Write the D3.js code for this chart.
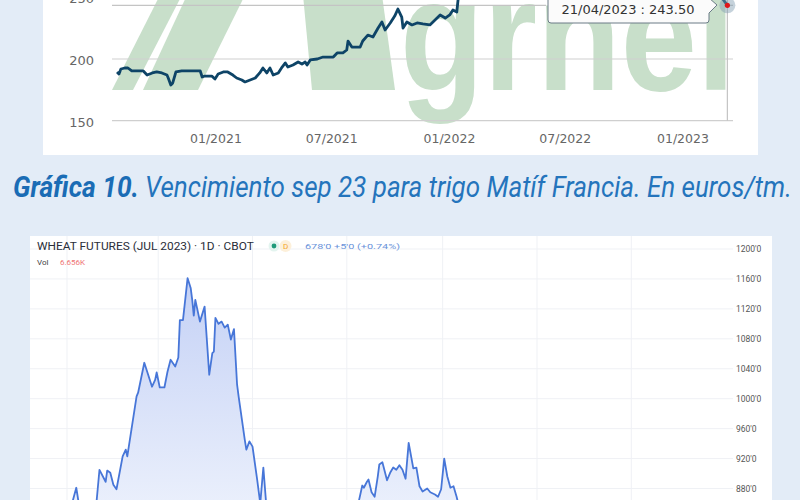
<!DOCTYPE html>
<html><head><meta charset="utf-8">
<script src="https://cdn.jsdelivr.net/npm/d3@7"></script>
<style>body{margin:0;background:#e3ecf7;overflow:hidden} svg{display:block}</style>
</head><body>
<svg id="c" width="800" height="500"></svg>
<script>
// ---------- Top chart: Matif wheat Sep 23 (euros/tm) ----------
const matifDates = ["2020-09-09","2020-09-12","2020-09-15","2020-09-21","2020-09-26","2020-10-02","2020-10-15","2020-10-20","2020-10-26","2020-11-03","2020-11-10","2020-11-18","2020-11-26","2020-11-28","2020-12-02","2020-12-05","2020-12-10","2020-12-19","2021-01-01","2021-01-17","2021-01-20","2021-01-24","2021-02-04","2021-02-09","2021-02-14","2021-02-22","2021-03-01","2021-03-09","2021-03-15","2021-03-23","2021-03-28","2021-04-05","2021-04-13","2021-04-20","2021-04-25","2021-05-01","2021-05-06","2021-05-11","2021-05-19","2021-05-25","2021-05-30","2021-06-03","2021-06-11","2021-06-19","2021-06-25","2021-06-30","2021-07-03","2021-07-08","2021-07-19","2021-07-28","2021-08-05","2021-08-13","2021-08-19","2021-08-28","2021-09-03","2021-09-05","2021-09-11","2021-09-24","2021-09-28","2021-10-06","2021-10-14","2021-10-22","2021-10-28","2021-11-02","2021-11-10","2021-11-17","2021-11-22","2021-11-28","2021-11-30","2021-12-06","2021-12-14","2021-12-22","2021-12-31","2022-01-11","2022-01-19","2022-01-27","2022-02-04","2022-02-11","2022-02-16","2022-02-22","2022-02-24","2022-02-28","2022-03-08","2022-05-16","2022-07-05","2022-09-01","2022-11-01","2023-01-03","2023-03-01","2023-04-05","2023-04-12","2023-04-21"];
const matifValues = [189.5,187.8,191.9,192.7,192.7,190.3,190.3,190.3,187.0,188.7,189.5,188.7,187.0,184.6,178.9,180.6,189.5,190.3,190.3,190.3,185.4,186.2,186.2,183.8,187.8,189.5,189.5,187.0,184.6,183.0,181.4,183.0,184.6,188.7,192.7,188.7,192.7,187.0,188.7,193.5,196.8,193.5,195.1,197.6,195.9,197.6,195.1,199.2,200.0,201.6,201.6,201.6,204.9,204.9,207.3,214.5,209.7,209.7,214.6,219.4,217.8,225.1,230.0,223.5,229.2,234.8,240.5,234.0,225.1,230.0,227.6,229.2,228.4,227.6,231.6,235.7,233.2,235.7,239.7,238.1,247.8,270,330,380,300,320,310,290,265,255,250,243.5];
const matifYTicks = [150,200,250];
const matifXTicks = ["2021-01-01","2021-07-01","2022-01-01","2022-07-01","2023-01-01"];
const tooltipDate = "2023-04-21";
const tooltipValue = 243.5;
const tooltipLabel = "21/04/2023 : 243.50";
const watermarkText = "grnel";

// ---------- Caption ----------
const captionBold = "Gráfica 10.";
const captionRest = "Vencimiento sep 23 para trigo Matíf Francia. En euros/tm.";

// ---------- Bottom chart: CBOT wheat Jul 2023 ----------
const cbotTitle = "WHEAT FUTURES (JUL 2023) · 1D · CBOT";
const cbotQuote = "678'0 +5'0 (+0.74%)";
const volLabel = "Vol";
const volValue = "6.656K";
const cbotDates = ["2021-12-11","2021-12-21","2021-12-31","2022-01-04","2022-01-07","2022-01-09","2022-01-16","2022-01-20","2022-01-22","2022-01-26","2022-01-27","2022-01-29","2022-01-31","2022-02-02","2022-02-06","2022-02-08","2022-02-09","2022-02-12","2022-02-15","2022-02-16","2022-02-20","2022-02-25","2022-02-27","2022-02-28","2022-03-02","2022-03-05","2022-03-07","2022-03-09","2022-03-12","2022-03-14","2022-03-15","2022-03-17","2022-03-20","2022-03-22","2022-03-23","2022-03-24","2022-03-25","2022-03-28","2022-03-31","2022-04-03","2022-04-05","2022-04-06","2022-04-07","2022-04-09","2022-04-11","2022-04-13","2022-04-15","2022-04-17","2022-04-19","2022-04-21","2022-04-22","2022-04-26","2022-04-27","2022-04-29","2022-05-01","2022-05-04","2022-05-06","2022-05-08","2022-05-10","2022-05-19","2022-06-01","2022-06-14","2022-06-27","2022-06-30","2022-07-03","2022-07-08","2022-07-11","2022-07-12","2022-07-14","2022-07-15","2022-07-17","2022-07-19","2022-07-21","2022-07-22","2022-07-24","2022-07-27","2022-07-29","2022-07-31","2022-08-02","2022-08-04","2022-08-06","2022-08-08","2022-08-10","2022-08-13","2022-08-15","2022-08-17","2022-08-19","2022-08-22","2022-08-24","2022-08-27","2022-08-29","2022-08-31","2022-09-02","2022-09-04","2022-09-06","2022-09-08","2022-09-10","2022-09-12","2022-09-25","2022-10-21","2022-11-16","2022-12-12","2023-01-07","2023-02-01","2023-02-27","2023-04-21"];
const cbotValues = [835,845,852,858,881,855,858,860,905,889,904,901,885,879,923,932,923,963,1003,1008,1048,1016,1025,1035,1015,1015,1036,1052,1043,1055,1105,1105,1161,1148,1132,1111,1132,1103,1123,1032,1061,1063,1108,1100,1103,1095,1099,1079,1093,1019,1003,945,932,943,936,892,860,908,855,845,835,840,850,858,855,856,884,881,889,892,875,869,896,912,915,891,901,908,905,911,905,893,941,907,908,883,876,880,875,872,869,879,920,896,881,883,869,852,830,800,780,760,750,720,700,678];
const cbotYTicks = [880,920,960,1000,1040,1080,1120,1160,1200];
const fmtCbot = v => v + "'0";

const svg = d3.select("#c");
const defs = svg.append("defs");
const P = d => new Date(d + "T00:00:00Z");

// place text at (x, y) and squeeze horizontally so it spans `width` px
function fitText(t, x, y, width) {
  t.attr("x", 0).attr("y", 0);
  const w = t.node().getComputedTextLength();
  t.attr("transform", `translate(${x},${y}) scale(${width / w},1)`);
  return t;
}

// ================= TOP PANEL =================
svg.append("rect").attr("x",43).attr("y",-20).attr("width",715).attr("height",175).attr("fill","#fff");
defs.append("clipPath").attr("id","topClip").append("rect").attr("x",43).attr("y",0).attr("width",715).attr("height",155);
const topG = svg.append("g").attr("clip-path","url(#topClip)");

// watermark
const wm = topG.append("g").attr("fill","#c8dfca");
wm.append("polygon").attr("points","112,90 133,90 182,-5 160,-5");
wm.append("polygon").attr("points","143,90 198,90 245,-5 187,-5");
wm.append("polygon").attr("points","303,-5 382,-5 395,90 312,90");
fitText(wm.append("text").attr("font-family","Liberation Sans, Arial, sans-serif")
  .attr("font-weight","bold").attr("font-size",160).text(watermarkText), 400, 90, 335);

const xTop = d3.scaleUtc().domain([P("2021-01-01"), P("2023-01-01")]).range([190, 657]);
const yTop = d3.scaleLinear().domain([150, 200]).range([120.7, 59]);

// gridlines
topG.append("g").selectAll("line").data(matifYTicks).join("line")
  .attr("x1",112).attr("x2",733).attr("y1",d=>yTop(d)).attr("y2",d=>yTop(d))
  .attr("stroke","#cfcfcf").attr("stroke-width",1.2);
topG.append("g").selectAll("text").data(matifYTicks).join("text")
  .attr("x",94).attr("y",d=>yTop(d)+6).attr("text-anchor","end")
  .attr("font-family","DejaVu Sans, sans-serif").attr("font-size",13).attr("fill","#666").text(d=>d);
topG.append("g").selectAll("text").data(matifXTicks).join("text")
  .attr("x",d=>xTop(P(d))).attr("y",143)
  .attr("font-family","DejaVu Sans, sans-serif").attr("font-size",12.5).attr("fill","#666")
  .text(d=>d3.utcFormat("%m/%Y")(P(d)));

// crosshair
const tx = xTop(P(tooltipDate)), ty = yTop(tooltipValue);
topG.append("line").attr("x1",112).attr("x2",546).attr("y1",ty).attr("y2",ty).attr("stroke","#c4c4c4").attr("stroke-width",1.2);
topG.append("line").attr("x1",tx).attr("x2",733).attr("y1",ty).attr("y2",ty).attr("stroke","#c4c4c4").attr("stroke-width",1.2);
topG.append("line").attr("x1",tx).attr("x2",tx).attr("y1",-10).attr("y2",yTop(150)).attr("stroke","#c4c4c4").attr("stroke-width",1.2);

// line
defs.append("clipPath").attr("id","topPlot").append("rect").attr("x",112).attr("y",-50).attr("width",621).attr("height",171);
topG.append("path").datum(matifDates.map((d,i)=>({d:P(d),v:matifValues[i]})))
  .attr("clip-path","url(#topPlot)")
  .attr("fill","none").attr("stroke","#0e4467").attr("stroke-width",2.8).attr("stroke-linejoin","round")
  .attr("d", d3.line().x(p=>xTop(p.d)).y(p=>yTop(p.v)));

// tooltip marker
topG.append("circle").attr("cx",tx).attr("cy",ty).attr("r",8).attr("fill","#7f9cb0").attr("opacity",0.45);
topG.append("circle").attr("cx",tx).attr("cy",ty).attr("r",2.6).attr("fill","#e0161b");
const tt = topG.append("g");
tt.append("path").attr("d",`M548,-15 H709 V-2 L717,5 L709,13 V20 Q709,23 706,23 H551 Q548,23 548,20 Z`)
  .attr("fill","#fbfbfb").attr("stroke","#6a7b86").attr("stroke-width",1);
tt.append("text").attr("x",628).attr("y",14).attr("text-anchor","middle")
  .attr("font-family","DejaVu Sans, sans-serif").attr("font-size",13).attr("fill","#333").text(tooltipLabel);

// ================= CAPTION =================
fitText(svg.append("text").attr("font-family","Roboto, sans-serif")
  .attr("font-style","italic").attr("font-weight","bold").attr("font-size",30).attr("fill","#1a6cb5")
  .text(captionBold), 13, 197, 126);
fitText(svg.append("text").attr("font-family","Roboto, sans-serif")
  .attr("font-style","italic").attr("font-weight","normal").attr("font-size",30).attr("fill","#2474bc")
  .text(captionRest), 145, 197, 647);

// ================= BOTTOM PANEL =================
svg.append("rect").attr("x",30).attr("y",236).attr("width",742).attr("height",280).attr("fill","#fff");
const xBot = d3.scaleUtc().domain([P("2022-01-01"), P("2023-01-01")]).range([67, 631.3]);
const yBot = d3.scaleLinear().domain([880, 1200]).range([488.5, 249]);
const bot = svg.append("g");
defs.append("clipPath").attr("id","botPlot").append("rect").attr("x",30).attr("y",236).attr("width",703).attr("height",280);

// grid
bot.append("g").selectAll("line").data(cbotYTicks).join("line")
  .attr("x1",30).attr("x2",733).attr("y1",d=>yBot(d)).attr("y2",d=>yBot(d))
  .attr("stroke","#eff1f5").attr("stroke-width",1);
bot.append("g").selectAll("line").data(xBot.ticks(d3.utcMonth.every(2)).filter(d=>xBot(d)<733)).join("line")
  .attr("x1",d=>xBot(d)).attr("x2",d=>xBot(d)).attr("y1",236).attr("y2",500)
  .attr("stroke","#eff1f5").attr("stroke-width",1);

// area + line
const cbot = cbotDates.map((d,i)=>({d:P(d),v:cbotValues[i]}));
const grad = defs.append("linearGradient").attr("id","ag").attr("gradientUnits","userSpaceOnUse")
  .attr("x1",0).attr("x2",0).attr("y1",270).attr("y2",510);
grad.append("stop").attr("offset",0).attr("stop-color","#c3d0f5");
grad.append("stop").attr("offset",1).attr("stop-color","#ebf0fc");
const pg = bot.append("g").attr("clip-path","url(#botPlot)");
pg.append("path").datum(cbot).attr("fill","url(#ag)")
  .attr("d", d3.area().x(p=>xBot(p.d)).y0(yBot(820)).y1(p=>yBot(p.v)));
pg.append("path").datum(cbot).attr("fill","none").attr("stroke","#4776d8").attr("stroke-width",1.8)
  .attr("stroke-linejoin","round")
  .attr("d", d3.line().x(p=>xBot(p.d)).y(p=>yBot(p.v)));

// right axis labels
bot.append("g").selectAll("text").data(cbotYTicks).join("text")
  .attr("x",736).attr("y",d=>yBot(d)+3).attr("font-family","Roboto, sans-serif")
  .attr("font-size",8.5).attr("fill","#555").text(fmtCbot);

// header
fitText(bot.append("text").attr("font-family","Roboto, sans-serif").attr("font-size",10.5)
  .attr("fill","#2a2e39").text(cbotTitle), 37, 250, 217);
bot.append("circle").attr("cx",274).attr("cy",246).attr("r",5.5).attr("fill","#e3f4ef");
bot.append("circle").attr("cx",274).attr("cy",246).attr("r",2.4).attr("fill","#1f9a7a");
bot.append("circle").attr("cx",285.5).attr("cy",246).attr("r",6).attr("fill","#fdf0da");
bot.append("text").attr("x",285.5).attr("y",249).attr("text-anchor","middle").attr("font-family","Roboto, sans-serif")
  .attr("font-size",8).attr("fill","#f4a62a").text("D");
fitText(bot.append("text").attr("font-family","Roboto, sans-serif").attr("font-size",8)
  .attr("fill","#6a93da").text(cbotQuote), 305, 249, 95);
bot.append("text").attr("x",37).attr("y",265).attr("font-family","Roboto, sans-serif").attr("font-size",8)
  .attr("fill","#444").text(volLabel);
bot.append("text").attr("x",60).attr("y",265).attr("font-family","Roboto, sans-serif").attr("font-size",8)
  .attr("fill","#ef7474").text(volValue);
</script>
</body></html>
